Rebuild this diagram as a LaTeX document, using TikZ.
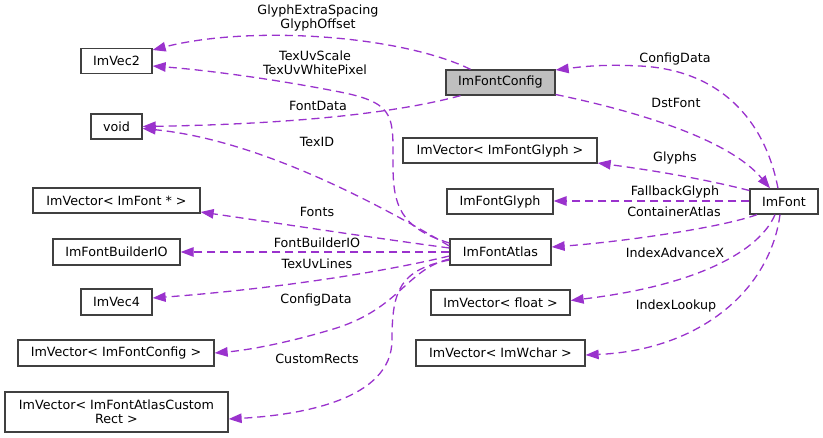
\documentclass[tikz,border=0pt]{standalone}
\usepackage{fontspec}
\setmainfont{DejaVu Sans}
\usetikzlibrary{arrows.meta}
\definecolor{edgec}{HTML}{9A32CD}
\definecolor{boxc}{HTML}{404040}
\definecolor{hl}{HTML}{BFBFBF}
\newcommand{\dfs}{\fontsize{12.7}{14.5}\selectfont}
\begin{document}
\begin{tikzpicture}[x=1pt,y=-1pt,
  box/.style={draw=boxc, line width=1.3pt, minimum height=25, inner sep=0pt, font=\dfs, align=center},
  lbl/.style={font=\dfs, inner sep=0pt, align=center},
  edge/.style={draw=edgec, line width=1.3pt, dash pattern=on 8pt off 5pt, -{Triangle[length=13pt,width=9.5pt,fill=edgec]}}]
\useasboundingbox (0,0) rectangle (823,438);
% nodes
\node[box, minimum width=71] (vec2) at (116.5,61) {ImVec2};
\node[box, minimum width=51] (void) at (116.5,126.5) {void};
\node[box, minimum width=167] (vfont) at (116.5,200.5) {ImVector< ImFont * >};
\node[box, minimum width=127, minimum height=26] (builder) at (116.5,252) {ImFontBuilderIO};
\node[box, minimum width=71, minimum height=26] (vec4) at (116.5,302) {ImVec4};
\node[box, minimum width=196, minimum height=26] (vcfg) at (116,353) {ImVector< ImFontConfig >};
\node[box, minimum width=223, minimum height=40] (vrect) at (116.5,412) {ImVector< ImFontAtlasCustom\\Rect >};
\node[box, minimum width=109, fill=hl] (cfg) at (500.5,82.5) {ImFontConfig};
\node[box, minimum width=194] (vglyph) at (500,150.5) {ImVector< ImFontGlyph >};
\node[box, minimum width=106] (glyph) at (500,201.5) {ImFontGlyph};
\node[box, minimum width=101, minimum height=26] (atlas) at (500.5,252) {ImFontAtlas};
\node[box, minimum width=139] (vfloat) at (500.5,302.5) {ImVector< float >};
\node[box, minimum width=169, minimum height=26] (vwchar) at (500.5,353) {ImVector< ImWchar >};
\node[box, minimum width=68] (font) at (784,201.5) {ImFont};
% edges
\draw[edge] ([xshift=-30]cfg.north) .. controls (400,35) and (250,25) .. ([yshift=11]vec2.east);
\draw[edge] ([yshift=9]atlas.west) .. controls (400,228) and (393,205) .. (393,165) .. controls (393,118) and (396,104) .. (345,93) .. controls (275,79) and (205,70) .. ([yshift=-5]vec2.east);
\draw[edge] ([xshift=-40]cfg.south) .. controls (400,112) and (300,124) .. (void.east);
\draw[edge] ([yshift=6]atlas.west) .. controls (380,205) and (260,140) .. ([yshift=-2]void.east);
\draw[edge] ([yshift=4]atlas.west) .. controls (360,236) and (270,222) .. ([yshift=-11.5]vfont.east);
\draw[edge] (atlas.west) -- (builder.east);
\draw[edge] ([yshift=-4]atlas.west) .. controls (370,275) and (260,290) .. ([yshift=4]vec4.east);
\draw[edge] ([yshift=-7]atlas.west) .. controls (405,270) and (400,310) .. (330,330) .. controls (290,342) and (250,350) .. (vcfg.east);
\draw[edge] ([yshift=-8]atlas.west) .. controls (400,270) and (392,290) .. (392,340) .. controls (392,400) and (300,415) .. ([yshift=-7]vrect.east);
\draw[edge] ([xshift=-6]font.north) .. controls (765,120) and (720,70) .. (640,66) .. controls (600,64) and (580,67) .. ([yshift=12.5]cfg.east);
\draw[edge] ([yshift=-12]cfg.east) .. controls (640,112) and (730,140) .. ([xshift=-14]font.north);
\draw[edge] ([yshift=11]font.west) .. controls (700,178) and (650,170) .. ([yshift=-12.5]vglyph.east);
\draw[edge] ([yshift=0.5]font.west) -- ([yshift=0.5]glyph.east);
\draw[edge] ([xshift=-27]font.south) .. controls (720,228) and (620,242) .. ([yshift=5]atlas.east);
\draw[edge] ([xshift=-9]font.south) .. controls (760,250) and (700,285) .. ([yshift=2]vfloat.east);
\draw[edge] ([xshift=-4]font.south) .. controls (770,290) and (700,350) .. ([yshift=-2]vwchar.east);
% labels
\node[lbl] (l1) at (318,18) {GlyphExtraSpacing\\GlyphOffset};
\node[lbl] (l2) at (315,63) {TexUvScale\\TexUvWhitePixel};
\node[lbl] (l3) at (318,106) {FontData};
\node[lbl] (l4) at (317,142) {TexID};
\node[lbl] (l5) at (317,212) {Fonts};
\node[lbl] (l6) at (317,243) {FontBuilderIO};
\node[lbl] (l7) at (317,264) {TexUvLines};
\node[lbl] (l8) at (316,300) {ConfigData};
\node[lbl] (l9) at (317,359) {CustomRects};
\node[lbl] (l10) at (675,59) {ConfigData};
\node[lbl] (l11) at (676,103) {DstFont};
\node[lbl] (l12) at (675,158) {Glyphs};
\node[lbl] (l13) at (675,192) {FallbackGlyph};
\node[lbl] (l14) at (674,212) {ContainerAtlas};
\node[lbl] (l15) at (675,253) {IndexAdvanceX};
\node[lbl] (l16) at (676,306) {IndexLookup};
\end{tikzpicture}
\end{document}
